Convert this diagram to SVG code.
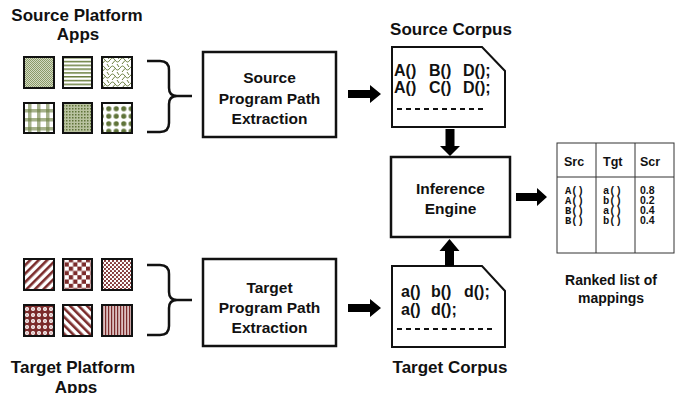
<svg xmlns="http://www.w3.org/2000/svg" width="675" height="393" viewBox="0 0 675 393">
<style>
text{font-family:"Liberation Sans",Arial,sans-serif;font-weight:bold;fill:#111}
.t{font-size:17px;text-anchor:middle}
.b{font-size:15.5px;text-anchor:middle}
.c{font-size:16px}
.h{font-size:12.5px}
.m{font-family:"Liberation Mono","Courier New",monospace;font-size:10.5px}
.n{font-size:10.5px}
.box{fill:#fff;stroke:#111;stroke-width:2.5}
.doc{fill:#fff;stroke:#111;stroke-width:2}
.sq{stroke:#111;stroke-width:2}
.brace{fill:none;stroke:#111;stroke-width:2.5}
.arrow{fill:#000}
.dash{stroke:#111;stroke-width:2;stroke-dasharray:5,4}
.tbl{fill:#fff;stroke:#333;stroke-width:1}
.tl{stroke:#333;stroke-width:1}
</style>
<defs>
<pattern id="g1" width="2" height="2" patternUnits="userSpaceOnUse"><rect width="2" height="2" fill="#d4dac4"/><rect width="1" height="1" fill="#8a9a68"/><rect x="1" y="1" width="1" height="1" fill="#8a9a68"/></pattern>
<pattern id="g2" width="4" height="3.8" patternUnits="userSpaceOnUse"><rect width="4" height="3.8" fill="#fff"/><rect y="0" width="4" height="1.5" fill="#6b7f3f"/></pattern>
<pattern id="g3" width="10" height="8" patternUnits="userSpaceOnUse"><rect width="10" height="8" fill="#fff"/><path d="M0,4 Q2.5,0 5,4 T10,4" fill="none" stroke="#6b7f3f" stroke-width="1"/><path d="M2,8 L5,4.5 M7,0 L9,3" fill="none" stroke="#6b7f3f" stroke-width="1"/></pattern>
<pattern id="g4" width="9" height="9" patternUnits="userSpaceOnUse"><rect width="9" height="9" fill="#fff"/><rect x="1" width="3.5" height="9" fill="#6b7f3f" opacity="0.6"/><rect y="1" width="9" height="3.5" fill="#6b7f3f" opacity="0.6"/></pattern>
<pattern id="g5" width="3" height="3" patternUnits="userSpaceOnUse"><rect width="3" height="3" fill="#b9c29f"/><rect width="1.5" height="1.5" fill="#5f7339"/></pattern>
<pattern id="g6" width="7.5" height="7.5" patternUnits="userSpaceOnUse"><rect width="7.5" height="7.5" fill="#fff"/><circle cx="3.75" cy="3.75" r="2.6" fill="#5f7339"/></pattern>
<pattern id="r1" width="6" height="6" patternUnits="userSpaceOnUse" patternTransform="rotate(45)"><rect width="6" height="6" fill="#fff"/><rect width="2.6" height="6" fill="#7b2b2b"/></pattern>
<pattern id="r2" width="8.6" height="8.6" patternUnits="userSpaceOnUse"><rect width="8.6" height="8.6" fill="#fff"/><rect width="4.3" height="4.3" fill="#7b2b2b"/><rect x="4.3" y="4.3" width="4.3" height="4.3" fill="#7b2b2b"/></pattern>
<pattern id="r3" width="4" height="4" patternUnits="userSpaceOnUse"><rect width="4" height="4" fill="#fff"/><circle cx="1" cy="1" r="1.1" fill="#7b2b2b"/><circle cx="3" cy="3" r="1.1" fill="#7b2b2b"/></pattern>
<pattern id="r4" width="6" height="6" patternUnits="userSpaceOnUse"><rect width="6" height="6" fill="#7b2b2b"/><circle cx="3" cy="3" r="2" fill="#fff"/><circle cx="3" cy="3" r="0.8" fill="#b88080"/></pattern>
<pattern id="r5" width="6" height="6" patternUnits="userSpaceOnUse" patternTransform="rotate(-45)"><rect width="6" height="6" fill="#fff"/><rect width="2.6" height="6" fill="#7b2b2b"/></pattern>
<pattern id="r6" width="3" height="3" patternUnits="userSpaceOnUse"><rect width="3" height="3" fill="#dcc0c0"/><rect width="1.2" height="3" fill="#7b2b2b"/></pattern>
</defs>

<g id="source-apps">
<text class="t" x="77" y="21">Source Platform</text>
<text class="t" x="78" y="40">Apps</text>
<rect class="sq" x="24" y="57" width="30" height="31" fill="url(#g1)"/>
<rect class="sq" x="63" y="57" width="29" height="31" fill="url(#g2)"/>
<rect class="sq" x="102" y="57" width="30" height="31" fill="url(#g3)"/>
<rect class="sq" x="24" y="103" width="30" height="30" fill="url(#g4)"/>
<rect class="sq" x="63" y="103" width="29" height="30" fill="url(#g5)"/>
<rect class="sq" x="102" y="103" width="30" height="30" fill="url(#g6)"/>
<path class="brace" d="M147,61 H160 Q169,61 169,70 V88 Q169,96 177,96 H192 M177,96 Q169,96 169,104 V123 Q169,132 160,132 H147"/>
</g>

<g id="target-apps">
<rect class="sq" x="24" y="259" width="30" height="31" fill="url(#r1)"/>
<rect class="sq" x="63" y="259" width="29" height="31" fill="url(#r2)"/>
<rect class="sq" x="102" y="259" width="30" height="31" fill="url(#r3)"/>
<rect class="sq" x="24" y="305" width="30" height="31" fill="url(#r4)"/>
<rect class="sq" x="63" y="305" width="29" height="31" fill="url(#r5)"/>
<rect class="sq" x="102" y="305" width="30" height="31" fill="url(#r6)"/>
<path class="brace" d="M147,265 H160 Q169,265 169,274 V292 Q169,300 177,300 H192 M177,300 Q169,300 169,308 V326 Q169,335 160,335 H147"/>
<text class="t" x="73" y="373">Target Platform</text>
<text class="t" x="76" y="393">Apps</text>
</g>

<g id="source-extraction">
<rect class="box" x="203" y="52" width="133" height="85"/>
<text class="b" x="269.5" y="83">Source</text>
<text class="b" x="269.5" y="104">Program Path</text>
<text class="b" x="269.5" y="124">Extraction</text>
</g>

<g id="target-extraction">
<rect class="box" x="203" y="259" width="133" height="87"/>
<text class="b" x="269.5" y="293">Target</text>
<text class="b" x="269.5" y="313">Program Path</text>
<text class="b" x="269.5" y="333">Extraction</text>
</g>

<g id="source-corpus">
<text class="t" x="451" y="35">Source Corpus</text>
<path class="doc" d="M392,47 H482 L505,71 V127 H392 Z"/>
<text class="c" x="394" y="76">A()</text>
<text class="c" x="429" y="76">B()</text>
<text class="c" x="463" y="76">D();</text>
<text class="c" x="394" y="93">A()</text>
<text class="c" x="429" y="93">C()</text>
<text class="c" x="463" y="93">D();</text>
<line class="dash" x1="397" y1="109" x2="487" y2="109"/>
</g>

<g id="target-corpus">
<path class="doc" d="M392,266 H482 L505,291 V347 H392 Z"/>
<text class="c" x="401" y="297">a()</text>
<text class="c" x="431" y="297">b()</text>
<text class="c" x="464" y="297">d();</text>
<text class="c" x="401" y="315">a()</text>
<text class="c" x="431" y="315">d();</text>
<line class="dash" x1="397" y1="329" x2="492" y2="329"/>
<text class="t" x="450" y="373">Target Corpus</text>
</g>

<g id="inference-engine">
<rect class="box" x="391" y="157" width="119" height="80"/>
<text class="b" x="450.5" y="194">Inference</text>
<text class="b" x="450.5" y="214">Engine</text>
</g>

<g id="ranked-list">
<rect class="tbl" x="557" y="143" width="117" height="110"/>
<line class="tl" x1="557" y1="177" x2="674" y2="177"/>
<line class="tl" x1="596" y1="143" x2="596" y2="253"/>
<line class="tl" x1="635" y1="143" x2="635" y2="253"/>
<text class="h" x="564" y="166">Src</text>
<text class="h" x="603" y="166">Tgt</text>
<text class="h" x="640" y="166">Scr</text>
<text class="m" x="565" y="194">A()</text>
<text class="m" x="565" y="204">A()</text>
<text class="m" x="565" y="214">B()</text>
<text class="m" x="565" y="224">B()</text>
<text class="m" x="603" y="194">a()</text>
<text class="m" x="603" y="204">b()</text>
<text class="m" x="603" y="214">a()</text>
<text class="m" x="603" y="224">b()</text>
<text class="n" x="640" y="194">0.8</text>
<text class="n" x="640" y="204">0.2</text>
<text class="n" x="640" y="214">0.4</text>
<text class="n" x="640" y="224">0.4</text>
<text class="t" x="611" y="285" style="font-size:14px">Ranked list of</text>
<text class="t" x="611" y="303" style="font-size:14px">mappings</text>
</g>

<g id="connectors">
<path class="arrow" d="M348,90 H370 V85 L381,94 L370,103 V98 H348 Z"/>
<path class="arrow" d="M348,304 H370 V299 L381,308 L370,317 V312 H348 Z"/>
<path class="arrow" d="M516,193 H537 V188 L547,197 L537,206 V201 H516 Z"/>
<path class="arrow" d="M445.5,129 H454.5 V146 H460 L450,156 L440,146 H445.5 Z"/>
<path class="arrow" d="M445,266 H454 V251 H459.5 L449.5,239 L439.5,251 H445 Z"/>
</g>
</svg>
